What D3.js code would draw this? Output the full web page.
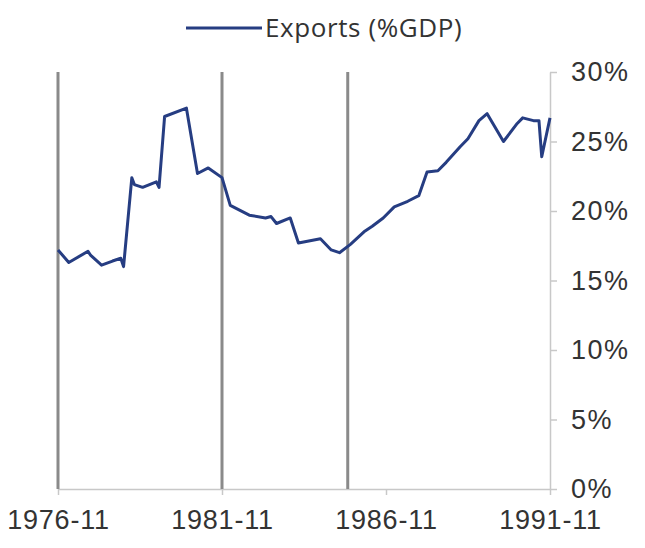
<!DOCTYPE html>
<html><head><meta charset="utf-8">
<script src="https://cdn.jsdelivr.net/npm/d3@7"></script>
<style>body{margin:0;background:#fff;}svg{display:block;font-family:"Open Sans",Lato,sans-serif;}</style>
</head><body><svg id="c" width="645" height="548"></svg>
<script>
const dates = ["1976-11","1977-03","1977-10","1977-11","1978-03","1978-07","1978-10","1978-11","1979-02","1979-03","1979-06","1979-11","1979-12","1980-02","1980-10","1981-02","1981-06","1981-11","1982-02","1982-09","1983-03","1983-05","1983-07","1983-12","1984-03","1984-11","1985-03","1985-06","1985-10","1986-03","1986-06","1986-10","1987-02","1987-07","1987-11","1988-02","1988-06","1988-09","1989-02","1989-05","1989-09","1989-12","1990-06","1990-11","1991-01","1991-05","1991-07","1991-08","1991-11"];
const exportsPct = [17.2,16.3,17.1,16.8,16.1,16.4,16.6,16.0,22.4,21.9,21.7,22.1,21.7,26.8,27.4,22.7,23.1,22.4,20.4,19.7,19.5,19.6,19.1,19.5,17.7,18.0,17.2,17.0,17.6,18.5,18.9,19.5,20.3,20.7,21.1,22.8,22.9,23.5,24.6,25.2,26.5,27.0,25.0,26.3,26.7,26.5,26.5,23.9,26.7];
const eventDates = ["1976-11","1981-11","1985-09"];
const xTickLabels = ["1976-11","1981-11","1986-11","1991-11"];
const yTicks = [0,5,10,15,20,25,30];
const seriesName = "Exports (%GDP)";

const parse = d3.timeParse("%Y-%m");
const fmt = d3.timeFormat("%Y-%m");
const data = dates.map((d,i)=>({date:parse(d), v:exportsPct[i]}));
const svg = d3.select("#c");
const L=58, R=550, T=72, B=489;
const x = d3.scaleTime().domain([parse("1976-11"), parse("1991-11")]).range([L,R]);
const y = d3.scaleLinear().domain([0,30]).range([B,T]);

// bottom axis
const xa = svg.append("g").attr("transform",`translate(0,${B})`)
  .call(d3.axisBottom(x).tickValues(xTickLabels.map(parse)).tickFormat(fmt).tickSize(6).tickSizeOuter(0));
xa.select(".domain").attr("stroke","#c8c8c8").attr("stroke-width",1.5);
xa.selectAll(".tick line").attr("stroke","#c8c8c8").attr("stroke-width",1.5);
xa.selectAll("text").attr("fill","#333").attr("font-size",27).attr("letter-spacing",0.8).attr("y",14).attr("dy","0.95em");

// right axis
const ya = svg.append("g").attr("transform",`translate(${R},0)`)
  .call(d3.axisRight(y).tickValues(yTicks).tickFormat(d=>d+"%").tickSize(7).tickSizeOuter(0).tickPadding(14));
ya.select(".domain").attr("stroke","#c8c8c8").attr("stroke-width",1.5);
ya.selectAll(".tick line").attr("stroke","#c8c8c8").attr("stroke-width",1.5);
ya.selectAll("text").attr("fill","#333").attr("font-size",27).attr("letter-spacing",1.5);

// event lines
svg.append("g").selectAll("line").data(eventDates).join("line")
  .attr("x1",d=>x(parse(d))).attr("x2",d=>x(parse(d)))
  .attr("y1",T).attr("y2",B)
  .attr("stroke","#8a8a8a").attr("stroke-width",3);

// series
svg.append("path").datum(data)
  .attr("fill","none").attr("stroke","#263d82").attr("stroke-width",3).attr("stroke-linejoin","round")
  .attr("d", d3.line().x(d=>x(d.date)).y(d=>y(d.v)));

// legend
const lg = svg.append("g");
lg.append("line").attr("x1",186).attr("x2",262).attr("y1",28).attr("y2",28).attr("stroke","#263d82").attr("stroke-width",3);
lg.append("text").attr("x",265).attr("y",37).attr("font-size",26).attr("letter-spacing",0.6).attr("fill","#333").text(seriesName);
</script></body></html>
